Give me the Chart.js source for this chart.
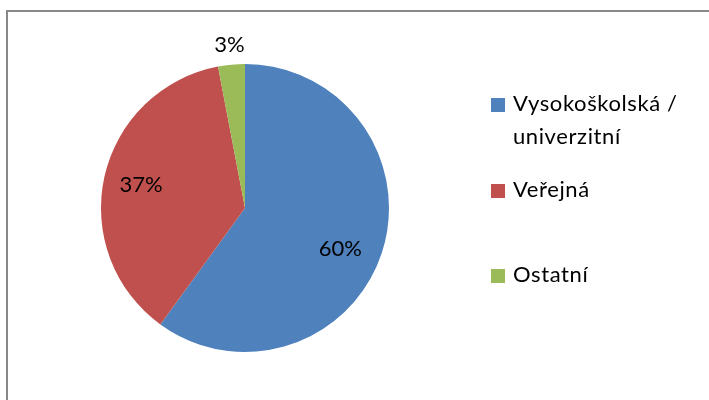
<!DOCTYPE html>
<html>
<head>
<meta charset="utf-8">
<script src="https://cdn.jsdelivr.net/npm/chart.js@4/dist/chart.umd.min.js"></script>
<style>
  html, body { margin: 0; padding: 0; background: #fff; }
  #wrap { position: relative; width: 709px; height: 400px; overflow: hidden; }
  #frame { position: absolute; left: 6px; top: 10px; width: 720px; height: 420px;
           border-left: 2px solid #888; border-top: 2px solid #888; box-sizing: border-box; }
  canvas { position: absolute; left: 0; top: 0; }
</style>
</head>
<body>
<div id="wrap">
  <div id="frame"></div>
  <canvas id="c" width="709" height="400"></canvas>
</div>
<script>
const categories = ["Vysokoškolská / univerzitní", "Veřejná", "Ostatní"];
const legendLines = [["Vysokoškolská /", "univerzitní"], ["Veřejná"], ["Ostatní"]];
const values = [60, 37, 3];
const valueLabels = ["60%", "37%", "3%"];
const colors = ["#4F81BD", "#C0504D", "#9BBB59"];

const FONT = "Lato, 'Open Sans', sans-serif";

const labelPlugin = {
  id: 'sliceLabels',
  afterDatasetsDraw(chart, args, opts) {
    const ctx = chart.ctx;
    const meta = chart.getDatasetMeta(0);
    ctx.save();
    ctx.font = "22px " + FONT;
    ctx.fillStyle = "#000";
    ctx.textAlign = "center";
    ctx.textBaseline = "middle";
    meta.data.forEach((arc, i) => {
      const mid = (arc.startAngle + arc.endAngle) / 2 + opts.angleShift[i];
      const r = arc.outerRadius * opts.radiusFrac[i];
      const x = arc.x + Math.cos(mid) * r;
      const y = arc.y + Math.sin(mid) * r;
      ctx.fillText(valueLabels[i], x, y);
    });
    ctx.restore();
  }
};

const legendPlugin = {
  id: 'sideLegend',
  afterDraw(chart, args, opts) {
    const ctx = chart.ctx;
    ctx.save();
    ctx.font = "22px " + FONT;
    if ('letterSpacing' in ctx) ctx.letterSpacing = "0.6px";
    ctx.textBaseline = "alphabetic";
    ctx.textAlign = "left";
    let k = 0;
    legendLines.forEach((lines, i) => {
      const base = opts.baselines[k];
      ctx.fillStyle = colors[i];
      ctx.fillRect(opts.boxX, base - 13, 14, 14);
      ctx.fillStyle = "#000";
      lines.forEach((t, j) => {
        ctx.fillText(t, opts.textX, opts.baselines[k + j]);
      });
      k += lines.length;
    });
    ctx.restore();
  }
};

new Chart(document.getElementById('c'), {
  type: 'pie',
  data: {
    labels: categories,
    datasets: [{
      data: values,
      backgroundColor: colors,
      borderWidth: 0
    }]
  },
  options: {
    responsive: false,
    animation: false,
    layout: { padding: { left: 101, top: 64, right: 320, bottom: 48 } },
    plugins: {
      legend: { display: false },
      tooltip: { enabled: false },
      sliceLabels: { radiusFrac: [0.72, 0.74, 1.14], angleShift: [0.09, 0, 0] },
      sideLegend: { boxX: 491, textX: 513, baselines: [111, 144, 197, 282] }
    }
  },
  plugins: [labelPlugin, legendPlugin]
});
</script>
</body>
</html>
